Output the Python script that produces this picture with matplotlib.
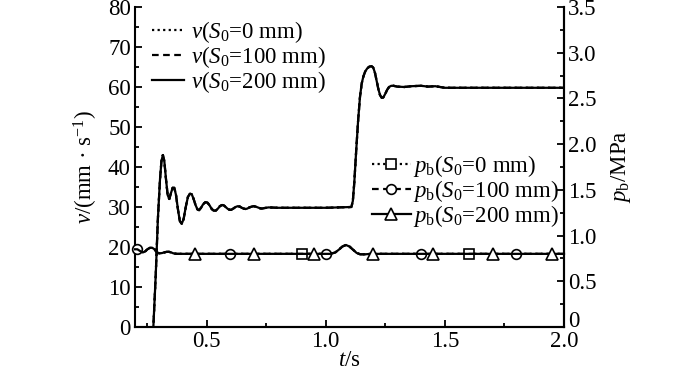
import matplotlib.pyplot as plt
from matplotlib.ticker import MultipleLocator, FixedLocator

plt.rcParams["font.family"] = "Liberation Serif"
plt.rcParams["mathtext.fontset"] = "custom"
plt.rcParams["mathtext.rm"] = "Liberation Serif"
plt.rcParams["mathtext.it"] = "Liberation Serif:italic"

# velocity v (mm/s) -- the three S0 curves coincide in the figure
t_v = [0.27, 0.277, 0.287, 0.296, 0.305, 0.311, 0.317, 0.323, 0.330, 0.337,
       0.344, 0.351, 0.358, 0.365, 0.372, 0.380, 0.388, 0.396, 0.404, 0.413,
       0.422, 0.430, 0.438, 0.446, 0.454, 0.462, 0.469, 0.477, 0.486, 0.495,
       0.504, 0.513, 0.522, 0.530, 0.539, 0.548, 0.556, 0.565, 0.573, 0.582,
       0.590, 0.597, 0.604, 0.612, 0.622, 0.631, 0.640, 0.648, 0.656, 0.664,
       0.671, 0.680, 0.690, 0.698, 0.706, 0.715, 0.724, 0.732, 0.740, 0.760,
       0.800, 0.900, 1.000, 1.108, 1.114, 1.120, 1.128, 1.136, 1.144, 1.151,
       1.158, 1.166, 1.175, 1.184, 1.193, 1.200, 1.207, 1.214, 1.221, 1.228,
       1.235, 1.242, 1.250, 1.258, 1.266, 1.275, 1.285, 1.300, 1.330, 1.360,
       1.400, 1.430, 1.460, 1.500, 1.600, 1.800, 2.000]
v_200 = [-10, 0, 13, 27, 37, 41.5, 43, 41.5, 37, 33,
         32, 33.5, 34.8, 34.8, 33, 29.5, 26.5, 25.8, 27, 30,
         32.5, 33.3, 33.2, 32, 30.5, 29.4, 29.2, 29.8, 30.7, 31.2,
         31.1, 30.4, 29.5, 29.1, 29.1, 29.6, 30.2, 30.5, 30.4, 29.9,
         29.5, 29.3, 29.3, 29.6, 30.0, 30.2, 30.1, 29.8, 29.6, 29.5,
         29.6, 29.9, 30.1, 30.2, 30.1, 29.9, 29.7, 29.6, 29.7, 29.9,
         29.8, 29.8, 29.8, 30.0, 31.5, 36, 44, 51.5, 57.5, 60.8,
         62.6, 63.9, 64.7, 65.1, 65.2, 64.8, 63.5, 61.5, 59.5, 58,
         57.3, 57.4, 58.3, 59.3, 60, 60.3, 60.3, 60.1, 60.0, 60.2,
         60.3, 60.1, 60.2, 59.8, 59.8, 59.8, 59.8]
v_100 = v_200
v_0 = v_200

# brake pressure p_b (MPa)
t_p = [0.20, 0.21, 0.222, 0.232, 0.242, 0.252, 0.262, 0.272, 0.282, 0.292,
       0.302, 0.312, 0.322, 0.332, 0.342, 0.352, 0.362, 0.375, 0.45, 0.6,
       0.7, 0.9, 0.95, 1.0, 1.02, 1.04, 1.055, 1.07, 1.085, 1.10,
       1.115, 1.13, 1.145, 1.165, 1.19, 1.2, 1.4, 1.45, 1.6, 1.7,
       1.8, 1.95, 2.0]
p_200 = [0.85, 0.85, 0.83, 0.815, 0.825, 0.85, 0.865, 0.867, 0.85, 0.815,
         0.806, 0.808, 0.815, 0.822, 0.823, 0.815, 0.805, 0.80, 0.80, 0.80,
         0.80, 0.80, 0.80, 0.80, 0.80, 0.815, 0.845, 0.88, 0.897, 0.88,
         0.845, 0.81, 0.795, 0.795, 0.80, 0.80, 0.80, 0.80, 0.80, 0.80,
         0.80, 0.80, 0.80]
p_100 = p_200
p_0 = p_200

# marker times for each pressure series
mark_0 = [0.9, 1.6]
mark_100 = [0.21, 0.6, 1.0, 1.4, 1.8]
mark_200 = [0.45, 0.7, 0.95, 1.2, 1.45, 1.7, 1.95]

fig = plt.figure(figsize=(7, 3.73), dpi=100)
ax = fig.add_axes([135 / 700, 46 / 373, 429 / 700, 320 / 373])
ax2 = ax.twinx()

lw = 1.6
ax.plot(t_v, v_0, color="black", lw=lw, ls=(0, (1, 1.5)), label=r"$v$($S_0$=0 mm)")
ax.plot(t_v, v_100, color="black", lw=lw, ls=(0, (3, 2)), label=r"$v$($S_0$=100 mm)")
ax.plot(t_v, v_200, color="black", lw=lw, ls="-", label=r"$v$($S_0$=200 mm)")

mk = dict(color="black", lw=lw, mfc="white", mec="black", mew=1.2, clip_on=False)
ax2.plot(t_p, p_0, ls=(0, (1, 1.5)), marker="s", ms=6.5,
         markevery=[t_p.index(m) for m in mark_0],
         label=r"$p_{\rm b}$($S_0$=0 mm)", **mk)
ax2.plot(t_p, p_100, ls=(0, (3, 2)), marker="o", ms=7,
         markevery=[t_p.index(m) for m in mark_100],
         label=r"$p_{\rm b}$($S_0$=100 mm)", **mk)
ax2.plot(t_p, p_200, ls="-", marker="^", ms=8,
         markevery=[t_p.index(m) for m in mark_200],
         label=r"$p_{\rm b}$($S_0$=200 mm)", **mk)

ax.set_xlim(0.2, 2.0)
ax.set_ylim(0, 80)
ax2.set_ylim(0, 3.5)

ax.xaxis.set_major_locator(FixedLocator([0.5, 1.0, 1.5, 2.0]))
ax.xaxis.set_minor_locator(FixedLocator([0.25, 0.75, 1.25, 1.75]))
ax.yaxis.set_major_locator(MultipleLocator(10))
ax.yaxis.set_minor_locator(MultipleLocator(5))
ax2.yaxis.set_major_locator(MultipleLocator(0.5))
ax2.yaxis.set_minor_locator(MultipleLocator(0.25))
# the "0" of the right axis is drawn by hand a little higher, clear of "2.0"
ax2.yaxis.set_major_formatter(lambda v, pos: "" if v == 0 else f"{v:.1f}")

fs = 16.5
for a in (ax, ax2):
    a.spines["top"].set_visible(False)
    for s in a.spines.values():
        s.set_linewidth(1.5)
    a.tick_params(which="both", direction="in", width=1.3, labelsize=fs, pad=3)
    a.tick_params(which="major", length=5)
    a.tick_params(which="minor", length=3)
ax.tick_params(axis="both", right=False, top=False)
ax2.spines["left"].set_visible(False)

ax2.annotate("0", xy=(1, 0), xycoords="axes fraction", xytext=(3, -3.5),
             textcoords="offset points", ha="left", va="bottom", fontsize=fs)

ax.set_xlabel(r"$t$/s", fontsize=fs, labelpad=-1.5)
ax.set_ylabel(r"$v$/(mm · s$^{-1}$)", fontsize=fs, labelpad=6)
ax2.set_ylabel(r"$p_{\rm b}$/MPa", fontsize=fs, labelpad=9)

ax.legend(loc="upper left", bbox_to_anchor=(0.0, 1.015), frameon=False,
          fontsize=fs, handlelength=1.4, handletextpad=0.3, labelspacing=-0.05,
          borderaxespad=0.35)
ax2.legend(loc="center right", bbox_to_anchor=(1.015, 0.425), frameon=False,
           fontsize=fs, handlelength=1.7, handletextpad=0.1, labelspacing=-0.05,
           numpoints=1, borderaxespad=0.1)

fig.savefig("out.png", dpi=100)
